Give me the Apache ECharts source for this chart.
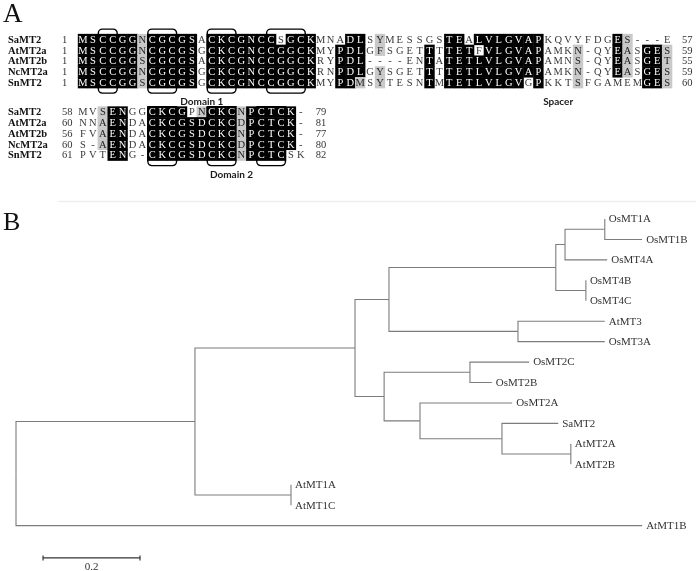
<!DOCTYPE html>
<html><head><meta charset="utf-8">
<script src="https://cdn.jsdelivr.net/npm/echarts@6/dist/echarts.min.js"></script>
<style>html,body{margin:0;padding:0;background:#fff}#c{width:696px;height:571px}</style>
</head><body><div id="c"></div>
<script>
// ---------------- DATA ----------------
const species = ['SaMT2', 'AtMT2a', 'AtMT2b', 'NcMT2a', 'SnMT2'];

const block1Seq = [
  'MSCCGGNCGCGSACKCGNCCSGCKMNADLSYMESSGSTEALVLGVAPKQVYFDGES---E',
  'MSCCGGNCGCGSGCKCGNCCGGCKMYPDLGFSGETTTTETFVLGVAPAMKN-QYEASGES',
  'MSCCGGSCGCGSACKCGNCCGGCKRYPDL----ENTATETLVLGVAPAMNS-QYEASGET',
  'MSCCGGNCGCGSGCKCGNCCGGCKRNPDLGYSGETTTTETLVLGVAPAMKN-QYEASGES',
  'MSCCGGSCGCGSGCKCGNCCGGCKMYPDMSYTESNTMTETLVLGVGPKKTSFGAMEMGES'
];
// k = identical (black), g = similar (grey), . = none
const block1Shade = [
  'kkkkkkgkkkkk.kkkkkkk.kkk...kk.g......kk.kkkkkkk.......kg....',
  'kkkkkkgkkkkk.kkkkkkkkkkk..kkk.g....k.kkk.kkkkkk...g...kg.kkg',
  'kkkkkkgkkkkk.kkkkkkkkkkk..kkk......k.kkkkkkkkkk...g...kg.kkg',
  'kkkkkkgkkkkk.kkkkkkkkkkk..kkk.g....k.kkkkkkkkkk...g...kg.kkg',
  'kkkkkkgkkkkk.kkkkkkkkkkk..kkg.g....k.kkkkkkkk.k...g......kkg'
];
const block1Start = [1, 1, 1, 1, 1];
const block1End = [57, 59, 55, 59, 60];

const block2Seq = [
  'MVSENGGCKCGPNCKCNPCTCK-',
  'NNAENDACKCGSDCKCDPCTCK-',
  'FVAENDACKCGSDCKCNPCTCK-',
  'S-AENDACKCGSDCKCDPCTCK-',
  'PVTENG-CKCGSDCKCNPCTCSK'
];
const block2Shade = [
  '..gkk..kkkk.gkkkgkkkkk.',
  '..gkk..kkkkkkkkkgkkkkk.',
  '..gkk..kkkkkkkkkgkkkkk.',
  '..gkk..kkkkkkkkkgkkkkk.',
  '...kk..kkkkkkkkkgkkkk..'
];
const block2Start = [58, 60, 56, 60, 61];
const block2End = [79, 81, 77, 80, 82];

// cysteine motif boxes (column ranges, 1-based)
const block1Boxes = [[3, 4], [8, 10], [14, 16], [20, 23]];
const block2Boxes = [[8, 10], [14, 16], [19, 21]];

// phylogenetic tree: leaf order top->bottom, edges [parent, child, branch length]
const leafOrder = ['OsMT1A', 'OsMT1B', 'OsMT4A', 'OsMT4B', 'OsMT4C', 'AtMT3', 'OsMT3A',
  'OsMT2C', 'OsMT2B', 'OsMT2A', 'SaMT2', 'AtMT2A', 'AtMT2B', 'AtMT1A', 'AtMT1C', 'AtMT1B'];
const treeEdges = [
  ['root', 'n1', 0.369], ['root', 'AtMT1B', 1.291],
  ['n1', 'n2', 0.330], ['n1', 'nAt1', 0.198],
  ['nAt1', 'AtMT1A', 0.0], ['nAt1', 'AtMT1C', 0.0],
  ['n2', 'n3', 0.070], ['n2', 'n8', 0.060],
  ['n3', 'n4', 0.344], ['n3', 'n7', 0.266],
  ['n4', 'n5', 0.019], ['n4', 'n6', 0.062],
  ['n5', 'n5a', 0.082], ['n5', 'OsMT4A', 0.087],
  ['n5a', 'OsMT1A', 0.0], ['n5a', 'OsMT1B', 0.077],
  ['n6', 'OsMT4B', 0.0], ['n6', 'OsMT4C', 0.0],
  ['n7', 'AtMT3', 0.179], ['n7', 'OsMT3A', 0.179],
  ['n8', 'n9', 0.177], ['n8', 'n10', 0.074],
  ['n9', 'OsMT2C', 0.122], ['n9', 'OsMT2B', 0.045],
  ['n10', 'OsMT2A', 0.190], ['n10', 'n11', 0.169],
  ['n11', 'SaMT2', 0.116], ['n11', 'n12', 0.142],
  ['n12', 'AtMT2A', 0.0], ['n12', 'AtMT2B', 0.0]
];
const scaleBarLength = 0.2;
const scaleBarText = '0.2';

// ---------------- LAYOUT / STYLE ----------------
const COL_W = 9.9, ROW_H = 10.8, SEQ_LEFT = 78.05;
const B1_TOP = 34.1, B2_TOP = 106.6;
const SEQ_FONT = '10.5px "Liberation Serif", "Times New Roman", serif';
const NAME_FONT = 'bold 10.5px "Liberation Serif", "Times New Roman", serif';
const NUM_FONT = '10.5px "Liberation Serif", "Times New Roman", serif';
const DOMAIN_FONT = 'bold 10px Lato, "Liberation Sans", sans-serif';
const shadeFill = { k: '#000000', g: '#c9c9c9' };
const textFill = { k: '#ffffff', g: '#222222', '.': '#3a3a3a' };
const TREE_COLOR = '#7c7c7c';

function makeCells(seqs, shades) {
  const out = [];
  seqs.forEach((s, r) => { for (let c = 0; c < s.length; c++) out.push({ c, r, ch: s[c], sh: shades[r][c] }); });
  return out;
}
const cells1 = makeCells(block1Seq, block1Shade);
const cells2 = makeCells(block2Seq, block2Shade);

function cellSeries(cells, gi) {
  return {
    type: 'custom', xAxisIndex: gi, yAxisIndex: gi, clip: false, z: 2,
    data: cells.map(it => [it.c, it.r]),
    renderItem(params, api) {
      const it = cells[params.dataIndex];
      const p = api.coord([it.c, it.r]);
      const sz = api.size([1, 1]);
      const ch = [];
      if (it.sh !== '.') ch.push({ type: 'rect', shape: { x: p[0] - sz[0] / 2 - 0.25, y: p[1] - sz[1] / 2 - 0.25, width: sz[0] + 0.5, height: sz[1] + 0.5 }, style: { fill: shadeFill[it.sh] } });
      ch.push({ type: 'text', style: { text: it.ch, x: p[0], y: p[1] + 0.5, align: 'center', verticalAlign: 'middle', font: SEQ_FONT, fill: textFill[it.sh] } });
      return { type: 'group', children: ch };
    }
  };
}
function boxSeries(boxes, gi, top, bottom) {
  return {
    type: 'custom', xAxisIndex: gi, yAxisIndex: gi, clip: false, z: 3,
    data: boxes.map(b => [b[0] - 1, b[1] - 1]),
    renderItem(params, api) {
      const b = boxes[params.dataIndex];
      const p1 = api.coord([b[0] - 1, 0]);
      const p2 = api.coord([b[1] - 1, species.length - 1]);
      const sz = api.size([1, 1]);
      const x = p1[0] - sz[0] / 2 + 0.5, w = p2[0] - p1[0] + sz[0] - 1;
      const y = p1[1] - sz[1] / 2 - top, h = p2[1] - p1[1] + sz[1] + top + bottom;
      const r = top > 0 ? 4 : [0, 0, 4, 4];
      return { type: 'rect', shape: { x, y, width: w, height: h, r }, style: { fill: null, stroke: '#000', lineWidth: 1.4 } };
    }
  };
}
function rowLabelSeries(gi, starts, ends, nCols) {
  return {
    type: 'custom', xAxisIndex: gi, yAxisIndex: gi, clip: false, z: 2,
    data: species.map((s, r) => [0, r]),
    renderItem(params, api) {
      const r = params.dataIndex;
      const p = api.coord([0, r]);
      const pe = api.coord([nCols - 1, r]);
      return { type: 'group', children: [
        { type: 'text', style: { text: species[r], x: p[0] - 75, y: p[1] + 0.5, align: 'left', verticalAlign: 'middle', font: NAME_FONT, fill: '#111' } },
        { type: 'text', style: { text: String(starts[r]), x: p[0] - 21, y: p[1] + 0.5, align: 'left', verticalAlign: 'middle', font: NUM_FONT, fill: '#333' } },
        { type: 'text', style: { text: String(ends[r]), x: pe[0] + 15, y: p[1] + 0.5, align: 'left', verticalAlign: 'middle', font: NUM_FONT, fill: '#333' } }
      ] };
    }
  };
}
function domainLabelSeries(gi, labels, offset) {
  return {
    type: 'custom', xAxisIndex: gi, yAxisIndex: gi, clip: false, z: 4,
    data: labels.map(l => [l[1], species.length - 1]),
    renderItem(params, api) {
      const l = labels[params.dataIndex];
      const p = api.coord([l[1], species.length - 1]);
      return { type: 'text', style: { text: l[0], x: p[0], y: p[1] + offset, align: 'center', verticalAlign: 'middle', font: DOMAIN_FONT, fill: '#1a1a1a' } };
    }
  };
}

// tree layout
const kids = {};
treeEdges.forEach(([p, c, l]) => { (kids[p] = kids[p] || []).push([c, l]); });
const pos = {};
(function walk(n, x) {
  const ch = kids[n];
  if (!ch) { pos[n] = [x, leafOrder.indexOf(n)]; return pos[n][1]; }
  const ys = ch.map(([c, l]) => walk(c, x + l));
  pos[n] = [x, (Math.min(...ys) + Math.max(...ys)) / 2];
  return pos[n][1];
})('root', 0);

const treeLines = treeEdges.map(([p, c]) => [pos[p][0], pos[p][1], pos[c][0], pos[c][1]]);

const option = {
  animation: false,
  backgroundColor: '#fff',
  grid: [
    { left: SEQ_LEFT, top: B1_TOP, width: COL_W * 60, height: ROW_H * 5 },
    { left: SEQ_LEFT, top: B2_TOP, width: COL_W * 23, height: ROW_H * 5 },
    { left: 16, top: 219 - 20.44, width: 485 * 1.4, height: 20.44 * 18 }
  ],
  xAxis: [
    { gridIndex: 0, type: 'category', data: block1Seq[0].split('').map((_, i) => i + 1), show: false },
    { gridIndex: 1, type: 'category', data: block2Seq[0].split('').map((_, i) => i + 1), show: false },
    { gridIndex: 2, type: 'value', min: 0, max: 1.4, show: false }
  ],
  yAxis: [
    { gridIndex: 0, type: 'category', data: species, inverse: true, show: false },
    { gridIndex: 1, type: 'category', data: species, inverse: true, show: false },
    { gridIndex: 2, type: 'value', min: -1, max: 17, inverse: true, show: false }
  ],
  graphic: [
    { type: 'text', left: 3, top: 1, style: { text: 'A', font: '27px "Liberation Serif", serif', fill: '#111' } },
    { type: 'text', left: 3, top: 210, style: { text: 'B', font: '26px "Liberation Serif", serif', fill: '#111' } },
    { type: 'line', shape: { x1: 58, y1: 201.5, x2: 696, y2: 201.5 }, style: { stroke: '#efefef', lineWidth: 1.5 } }
  ],
  series: [
    cellSeries(cells1, 0),
    boxSeries(block1Boxes, 0, 5, 5),
    rowLabelSeries(0, block1Start, block1End, 60),
    domainLabelSeries(0, [['Domain 1', 11.7], ['Spacer', 48.4]], 19),
    cellSeries(cells2, 1),
    boxSeries(block2Boxes, 1, 0, 5),
    rowLabelSeries(1, block2Start, block2End, 23),
    domainLabelSeries(1, [['Domain 2', 14.8]], 20),
    {
      type: 'custom', xAxisIndex: 2, yAxisIndex: 2, clip: false, z: 2,
      data: treeLines,
      renderItem(params, api) {
        const d = treeLines[params.dataIndex];
        const a = api.coord([d[0], d[1]]), b = api.coord([d[0], d[3]]), c = api.coord([d[2], d[3]]);
        return { type: 'polyline', shape: { points: [a, b, c] }, style: { stroke: TREE_COLOR, lineWidth: 1.1, fill: null } };
      }
    },
    {
      type: 'custom', xAxisIndex: 2, yAxisIndex: 2, clip: false, z: 3,
      data: leafOrder.map(n => pos[n]),
      renderItem(params, api) {
        const n = leafOrder[params.dataIndex];
        const p = api.coord(pos[n]);
        return { type: 'text', style: { text: n, x: p[0] + 4, y: p[1] + 0.5, align: 'left', verticalAlign: 'middle', font: '11px "Liberation Serif", serif', fill: '#333' } };
      }
    },
    {
      type: 'custom', xAxisIndex: 2, yAxisIndex: 2, clip: false, z: 3,
      data: [[0.0557, 16.58]],
      renderItem(params, api) {
        const x0 = 0.0557, yv = 16.58;
        const a = api.coord([x0, yv]), b = api.coord([x0 + scaleBarLength, yv]);
        return { type: 'group', children: [
          { type: 'line', shape: { x1: a[0], y1: a[1], x2: b[0], y2: b[1] }, style: { stroke: '#333', lineWidth: 1.2 } },
          { type: 'line', shape: { x1: a[0], y1: a[1] - 2.5, x2: a[0], y2: a[1] + 2.5 }, style: { stroke: '#333', lineWidth: 1.2 } },
          { type: 'line', shape: { x1: b[0], y1: b[1] - 2.5, x2: b[0], y2: b[1] + 2.5 }, style: { stroke: '#333', lineWidth: 1.2 } },
          { type: 'text', style: { text: scaleBarText, x: (a[0] + b[0]) / 2, y: a[1] + 9, align: 'center', verticalAlign: 'middle', font: '11px "Liberation Serif", serif', fill: '#333' } }
        ] };
      }
    }
  ]
};
const chart = echarts.init(document.getElementById('c'));
chart.setOption(option);
</script></body></html>
